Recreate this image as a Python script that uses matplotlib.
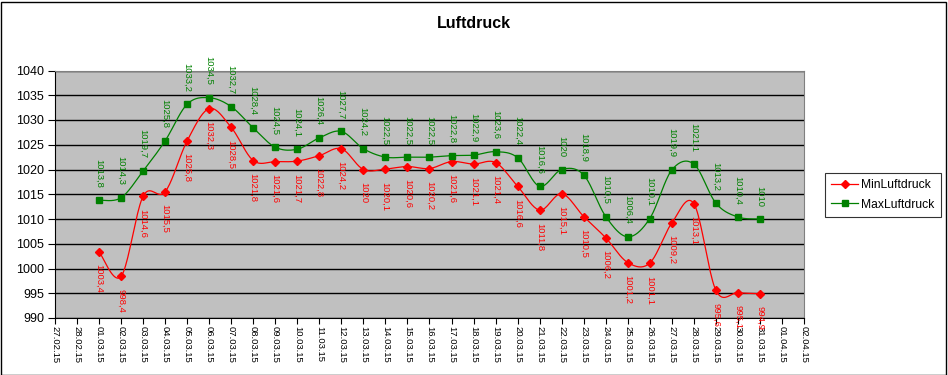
import numpy as np
import matplotlib
matplotlib.use("Agg")
import matplotlib.pyplot as plt
from matplotlib.patches import Rectangle
from matplotlib.lines import Line2D

plt.rcParams['font.family'] = ['Liberation Sans', 'DejaVu Sans']

tick_labels = ["27.02.15", "28.02.15"] + ["%02d.03.15" % d for d in range(1, 32)] + ["01.04.15", "02.04.15"]
days = list(range(1, 32))  # 01.03.15 .. 31.03.15
min_luftdruck = [1003.4, 998.4, 1014.6, 1015.5, 1025.8, 1032.3, 1028.5, 1021.8, 1021.6, 1021.7,
                 1022.8, 1024.2, 1020.0, 1020.1, 1020.6, 1020.2, 1021.6, 1021.1, 1021.4, 1016.6,
                 1011.8, 1015.1, 1010.5, 1006.2, 1001.2, 1001.1, 1009.2, 1013.1, 995.6, 995.1, 994.9]
max_luftdruck = [1013.8, 1014.3, 1019.7, 1025.8, 1033.2, 1034.5, 1032.7, 1028.4, 1024.5, 1024.1,
                 1026.4, 1027.7, 1024.2, 1022.5, 1022.5, 1022.5, 1022.8, 1022.9, 1023.6, 1022.4,
                 1016.6, 1020.0, 1018.9, 1010.5, 1006.4, 1010.1, 1019.9, 1021.1, 1013.2, 1010.4, 1010.0]


def fmt(v):
    s = ("%.1f" % v).rstrip("0").rstrip(".")
    return s.replace(".", ",")


def smooth(x, y, n=20):
    x = np.asarray(x, float)
    y = np.asarray(y, float)
    px = np.concatenate([[x[0]], x, [x[-1]]])
    py = np.concatenate([[y[0]], y, [y[-1]]])
    xs, ys = [], []
    t = np.linspace(0, 1, n, endpoint=False)
    for i in range(1, len(px) - 2):
        p0, p1, p2, p3 = (np.array([px[j], py[j]]) for j in (i - 1, i, i + 1, i + 2))
        c1 = p1 + (p2 - p0) / 6.0
        c2 = p2 - (p3 - p1) / 6.0
        b = ((1 - t) ** 3)[:, None] * p1 + (3 * (1 - t) ** 2 * t)[:, None] * c1 + \
            (3 * (1 - t) * t ** 2)[:, None] * c2 + (t ** 3)[:, None] * p2
        xs.extend(b[:, 0]); ys.extend(b[:, 1])
    xs.append(x[-1]); ys.append(y[-1])
    return np.array(xs), np.array(ys)


fig = plt.figure(figsize=(9.48, 3.75), dpi=100)
ax = fig.add_axes([55 / 948, 1 - 318 / 375, (804 - 55) / 948, (318 - 70.5) / 375])
ax.set_facecolor('#C0C0C0')

xpos = np.arange(len(days)) + 2  # index of 01.03 in tick list

red = '#FF0000'
green = '#008000'

sx, sy = smooth(xpos, min_luftdruck)
ax.plot(sx, sy, color=red, lw=0.9, zorder=3)
ax.plot(xpos, min_luftdruck, ls='none', marker='D', ms=4.5, color=red, zorder=4)
sx, sy = smooth(xpos, max_luftdruck)
ax.plot(sx, sy, color=green, lw=0.9, zorder=3)
ax.plot(xpos, max_luftdruck, ls='none', marker='s', ms=5, color=green, zorder=4)

for x, v in zip(xpos, max_luftdruck):
    ax.annotate(fmt(v), (x, v), xytext=(0, 9), textcoords='offset points', rotation=270,
                ha='center', va='bottom', fontsize=6.8, color=green, zorder=5, annotation_clip=False)
for x, v in zip(xpos, min_luftdruck):
    ax.annotate(fmt(v), (x, v), xytext=(0, -9), textcoords='offset points', rotation=270,
                ha='center', va='top', fontsize=6.8, color=red, zorder=5, annotation_clip=False)

ax.set_xlim(0, len(tick_labels) - 1)
ax.set_ylim(990, 1040)
ax.set_xticks(range(len(tick_labels)))
ax.set_xticklabels(tick_labels, rotation=270, fontsize=6.8)
ax.set_yticks(range(990, 1041, 5))
ax.tick_params(axis='y', labelsize=9, length=5, width=0.8, direction='out', pad=3)
ax.tick_params(axis='x', length=4, width=0.8, direction='out', pad=2)
ax.yaxis.grid(True, color='black', lw=1)
ax.set_axisbelow(True)
for s in ('top', 'right'):
    ax.spines[s].set_color('#808080')
for s in ('left', 'bottom'):
    ax.spines[s].set_color('black')

fig.text(474 / 948, 1 - 24 / 375, "Luftdruck", ha='center', va='center', fontsize=11.5, fontweight='bold')

handles = [Line2D([0], [0], color=red, marker='D', ms=4.5, lw=0.9),
           Line2D([0], [0], color=green, marker='s', ms=5, lw=0.9)]
leg = fig.legend(handles, ["MinLuftdruck", "MaxLuftdruck"], loc='center',
                 bbox_to_anchor=(883 / 948, 1 - 195 / 375), fontsize=8.7, frameon=True,
                 fancybox=False, edgecolor='black', handlelength=2.2, borderpad=0.5,
                 labelspacing=0.6, handletextpad=0.3, borderaxespad=0)
leg.get_frame().set_linewidth(0.8)

fig.patches.append(Rectangle((0.5 / 948, 0.5 / 375), 1 - 2.5 / 948, 1 - 2.5 / 375, transform=fig.transFigure,
                             fill=False, edgecolor='black', lw=1))

fig.savefig('out.png', dpi=100)
